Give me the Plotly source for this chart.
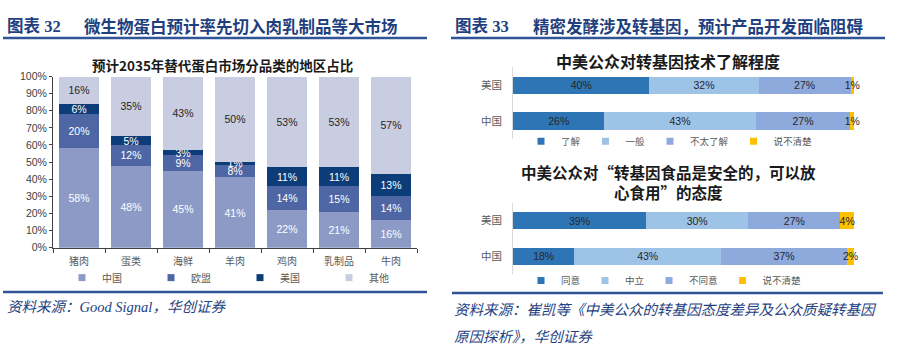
import plotly.graph_objects as go

W, H = 897, 359


def px(x):
    return x / W


def py(y):
    return 1 - y / H


# ---------------- data ----------------
categories = ['猪肉', '蛋类', '海鲜', '羊肉', '鸡肉', '乳制品', '牛肉']
share_china = [58, 48, 45, 41, 22, 21, 16]
share_eu = [20, 12, 9, 8, 14, 15, 14]
share_us = [6, 5, 3, 1, 11, 11, 13]
share_other = [16, 35, 43, 50, 53, 53, 57]
region_names = ['中国', '欧盟', '美国', '其他']
pct_ticks = [0, 10, 20, 30, 40, 50, 60, 70, 80, 90, 100]
pct_tick_labels = ['0%', '10%', '20%', '30%', '40%', '50%', '60%', '70%', '80%', '90%', '100%']

countries = ['美国', '中国']
know_names = ['了解', '一般', '不太了解', '说不清楚']
know_understand = [40, 26]
know_average = [32, 43]
know_little = [27, 27]
know_unsure = [1, 1]

safe_names = ['同意', '中立', '不同意', '说不清楚']
safe_agree = [39, 18]
safe_neutral = [30, 43]
safe_disagree = [27, 37]
safe_unsure = [4, 2]

# ---------------- styles ----------------
CJK = 'Noto Sans CJK SC'
NUM = 'Liberation Sans, Arial, sans-serif'
region_colors = ['#8D9AC6', '#4E66A3', '#0C3D78', '#C8CDE2']
region_text = ['white', 'white', 'white', '#262626']
survey_colors = ['#2E75B6', '#9DC3E6', '#8EA9DB', '#FFC000']
HEAD_BLUE = '#1F3F7F'
LINE_BLUE = '#2F5597'

fig = go.Figure()

# left stacked column chart
for name, vals, col, tcol in zip(region_names,
                                 [share_china, share_eu, share_us, share_other],
                                 region_colors, region_text):
    fig.add_trace(go.Bar(
        x=categories, y=vals, name=name, marker_color=col, marker_line_width=0,
        width=40 / 52,
        text=[f'{v}%' for v in vals], textposition='inside', insidetextanchor='middle',
        textangle=0, constraintext='none', cliponaxis=False,
        textfont=dict(family=NUM, size=10.5, color=tcol),
        xaxis='x', yaxis='y', showlegend=False, hoverinfo='skip'))
    fig.add_trace(go.Scatter(
        x=[None], y=[None], mode='markers', name=name,
        marker=dict(symbol='square', size=7, color=col),
        xaxis='x', yaxis='y', legend='legend', showlegend=True))

# right chart 1
for name, vals, col in zip(know_names,
                           [know_understand, know_average, know_little, know_unsure],
                           survey_colors):
    fig.add_trace(go.Bar(
        y=countries, x=vals, name=name, orientation='h', marker_color=col,
        marker_line_width=0, width=18 / 37,
        text=[f'{v}%' for v in vals], textposition='inside', insidetextanchor='middle',
        textangle=0, constraintext='none', cliponaxis=False,
        textfont=dict(family=NUM, size=10.5, color='#262626'),
        xaxis='x2', yaxis='y2', showlegend=False, hoverinfo='skip'))
    fig.add_trace(go.Scatter(
        x=[None], y=[None], mode='markers', name=name,
        marker=dict(symbol='square', size=7, color=col),
        xaxis='x2', yaxis='y2', legend='legend2', showlegend=True))

# right chart 2
for name, vals, col in zip(safe_names,
                           [safe_agree, safe_neutral, safe_disagree, safe_unsure],
                           survey_colors):
    fig.add_trace(go.Bar(
        y=countries, x=vals, name=name, orientation='h', marker_color=col,
        marker_line_width=0, width=18 / 37,
        text=[f'{v}%' for v in vals], textposition='inside', insidetextanchor='middle',
        textangle=0, constraintext='none', cliponaxis=False,
        textfont=dict(family=NUM, size=10.5, color='#262626'),
        xaxis='x3', yaxis='y3', showlegend=False, hoverinfo='skip'))
    fig.add_trace(go.Scatter(
        x=[None], y=[None], mode='markers', name=name,
        marker=dict(symbol='square', size=7, color=col),
        xaxis='x3', yaxis='y3', legend='legend3', showlegend=True))

axis_gray = '#595959'
fig.update_layout(
    width=W, height=H, margin=dict(l=0, r=0, t=0, b=0),
    paper_bgcolor='white', plot_bgcolor='white',
    barmode='stack', barnorm='percent',
    xaxis=dict(domain=[px(53), px(417)], type='category', showline=True,
               linecolor='#404040', linewidth=1, ticks='outside', tickson='boundaries',
               ticklen=4, tickcolor='#404040', showgrid=False, ticklabelstandoff=4,
               tickfont=dict(family=CJK, size=10, color=axis_gray), fixedrange=True),
    yaxis=dict(domain=[py(250), py(73)], range=[0, 100], tickvals=pct_ticks,
               ticktext=pct_tick_labels, showline=True, linecolor='#404040', linewidth=1,
               ticks='outside', ticklen=3, tickcolor='#404040', showgrid=False, zeroline=False,
               tickfont=dict(family=NUM, size=10.5, color='#404040'), fixedrange=True),
    xaxis2=dict(domain=[px(513), px(854)], range=[0, 100], visible=False, anchor='y2'),
    yaxis2=dict(domain=[py(137.5), py(63.5)], anchor='x2', autorange='reversed',
                type='category', showline=True, linecolor='#D9D9D9', ticks='',
                showgrid=False, ticklabelstandoff=8,
                tickfont=dict(family=CJK, size=10.5, color=axis_gray)),
    xaxis3=dict(domain=[px(513), px(854)], range=[0, 100], visible=False, anchor='y3'),
    yaxis3=dict(domain=[py(277.5), py(203.5)], anchor='x3', autorange='reversed',
                type='category', showline=True, linecolor='#D9D9D9', ticks='',
                showgrid=False, ticklabelstandoff=8,
                tickfont=dict(family=CJK, size=10.5, color=axis_gray)),
    legend=dict(orientation='h', x=px(62), y=py(281), xanchor='left', yanchor='middle',
                entrywidth=44, entrywidthmode='pixels', bgcolor='rgba(0,0,0,0)',
                traceorder='normal',
                font=dict(family=CJK, size=10, color=axis_gray), itemwidth=30),
    legend2=dict(orientation='h', x=px(521), y=py(140), xanchor='left', yanchor='middle',
                 bgcolor='rgba(0,0,0,0)', traceorder='normal',
                 font=dict(family=CJK, size=9.5, color=axis_gray), itemwidth=30),
    legend3=dict(orientation='h', x=px(521), y=py(284), xanchor='left', yanchor='middle',
                 bgcolor='rgba(0,0,0,0)', traceorder='normal',
                 font=dict(family=CJK, size=9.5, color=axis_gray), itemwidth=30),
    uniformtext=dict(mode=False),
)

ann = []


def add_text(text, x, y, size, color, xanchor='left', bold=False, italic=False, family=CJK):
    ann.append(dict(text=text, x=px(x), y=py(y), xref='paper', yref='paper',
                    xanchor=xanchor, yanchor='middle', showarrow=False,
                    font=dict(family=family, size=size, color=color,
                              weight='bold' if bold else 'normal',
                              style='italic' if italic else 'normal')))


# panel headers
add_text('图表 32', 5, 21, 16.5, HEAD_BLUE, bold=True, family='Liberation Serif, ' + CJK)
add_text('微生物蛋白预计率先切入肉乳制品等大市场', 82, 21, 16.5, HEAD_BLUE, bold=True)
add_text('图表 33', 453, 21, 16.5, HEAD_BLUE, bold=True, family='Liberation Serif, ' + CJK)
add_text('精密发酵涉及转基因，预计产品开发面临阻碍', 531, 21, 16.5, HEAD_BLUE, bold=True)

# chart titles
add_text('预计2035年替代蛋白市场分品类的地区占比', 222, 61, 13.5, '#1a1a1a', xanchor='center',
         bold=True)
add_text('中美公众对转基因技术了解程度', 668, 57, 16, '#1a1a1a', xanchor='center', bold=True)
add_text('中美公众对“转基因食品是安全的，可以放', 668, 171.5, 15.5, '#1a1a1a',
         xanchor='center', bold=True)
add_text('心食用”的态度', 668, 192.5, 15.5, '#1a1a1a', xanchor='center', bold=True)

# sources
SRC_FAMILY = 'Liberation Serif, ' + CJK
add_text('资料来源：Good Signal，华创证券', 5, 311, 14.5, HEAD_BLUE, italic=True,
         family=SRC_FAMILY)
add_text('资料来源：崔凯等《中美公众的转基因态度差异及公众质疑转基因', 452, 315, 14.5, HEAD_BLUE,
         italic=True, family=SRC_FAMILY)
add_text('原因探析》，华创证券', 452, 342, 14.5, HEAD_BLUE, italic=True, family=SRC_FAMILY)

shapes = []
for x0, x1, y in [(3, 427, 33), (451, 885, 33), (3, 427, 296), (452, 883, 297)]:
    shapes.append(dict(type='line', xref='paper', yref='paper', x0=px(x0), x1=px(x1),
                       y0=py(y), y1=py(y), line=dict(color=LINE_BLUE, width=2.5)))

fig.update_layout(annotations=ann, shapes=shapes)

fig.write_html('out.html',
               config={'displayModeBar': False},
               post_script="document.body.style.margin='0';"
                           "document.body.style.overflow='hidden';")
